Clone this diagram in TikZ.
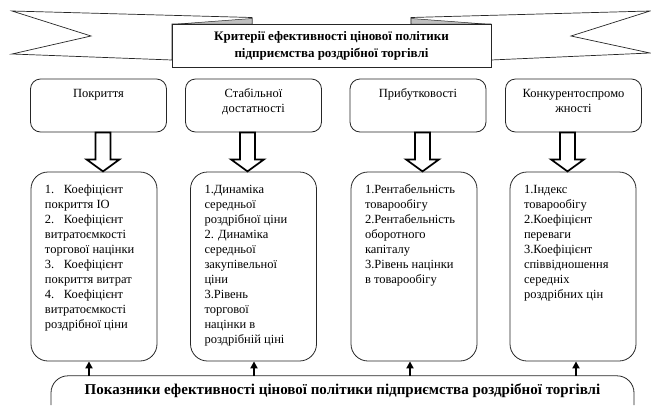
\documentclass[tikz,border=0pt]{standalone}
\usepackage{fontspec}
\setmainfont{Liberation Serif}
\usetikzlibrary{arrows.meta,calc}
\tikzset{
  boxline/.style={draw=black!85, line width=0.8pt},
  topbox/.style={boxline, rounded corners=10pt, inner sep=0pt, fill=white},
  lowbox/.style={boxline, rounded corners=17pt, inner xsep=14pt, inner ysep=0pt},
  panel/.style={boxline, fill=white, minimum width=319pt, minimum height=43pt, inner sep=0pt,
    align=center, font=\fontsize{13}{17}\selectfont\bfseries},
  tail/.style={draw=black!85, line width=0.7pt, fill=white, line join=miter},
  fold/.style={draw=black!85, line width=0.5pt, fill=black!25},
  thinarrow/.style={line width=1.8pt, -{Triangle[length=7pt,width=7pt]}},
  hollowarrow/.pic={\draw[line width=1.7pt, fill=white, line join=miter]
     (-7.5,0) -- (-7.5,27) -- (-16.5,27) -- (0,39) -- (16.5,27) -- (7.5,27) -- (7.5,0) -- cycle;}
}
\newcommand{\tbtext}[1]{\parbox[c][53pt][t]{136pt}{\centering\fontsize{12.5}{15}\selectfont\rule{0pt}{18pt}#1}}
\newcommand{\lbtext}[1]{\parbox[c][189pt][t]{98pt}{\raggedright\fontsize{12.5}{15}\selectfont\rule{0pt}{21pt}#1}}
\newcommand{\nr}[1]{\makebox[19pt][l]{#1}}
\begin{document}
\begin{tikzpicture}[x=1pt,y=-1pt]
\useasboundingbox (0,0) rectangle (651,405);
% ribbon tails
\draw[tail] (12,11) -- (252,17.5) -- (252,24) -- (172,24) -- (172,60) -- (12,54) -- (91,36) -- cycle;
\draw[tail] (650,11) -- (411,17.5) -- (411,24) -- (491,24) -- (491,60) -- (650,53) -- (571,36) -- cycle;
\draw[fold] (178,24) -- (252,18.5) -- (252,24) -- cycle;
\draw[fold] (485,24) -- (411,18.5) -- (411,24) -- cycle;
\node[panel] (crit) at (331.5,45.5) {Критерії ефективності цінової політики\\підприємства роздрібної торгівлі};
% top boxes
\node[topbox] (T1) at (98.5,105.5) {\tbtext{Покриття}};
\node[topbox] (T2) at (253.5,105.5) {\tbtext{Стабільної\\достатності}};
\node[topbox] (T3) at (418,105.5) {\tbtext{Прибутковості}};
\node[topbox] (T4) at (573.5,105.5) {\tbtext{Конкурентоспромо\\жності}};
% lower boxes
\node[lowbox] (L1) at (94,266.5) {\lbtext{\nr{1.}Коефіцієнт\\покриття ІО\\\nr{2.}Коефіцієнт\\витратоємкості\\торгової націнки\\\nr{3.}Коефіцієнт\\покриття витрат\\\nr{4.}Коефіцієнт\\витратоємкості\\роздрібної ціни}};
\node[lowbox] (L2) at (253.5,266.5) {\lbtext{1.Динаміка\\середньої\\роздрібної ціни\\2. Динаміка\\середньої\\закупівельної\\ціни\\3.Рівень\\торгової\\націнки в\\роздрібній ціні}};
\node[lowbox] (L3) at (414,266.5) {\lbtext{1.Рентабельність\\товарообігу\\2.Рентабельність\\оборотного\\капіталу\\3.Рівень націнки\\в товарообігу}};
\node[lowbox] (L4) at (573,266.5) {\lbtext{1.Індекс\\товарообігу\\2.Коефіцієнт\\переваги\\3.Коефіцієнт\\співвідношення\\середніх\\роздрібних цін}};
% hollow arrows
\coordinate (h1) at (103,0);
\coordinate (h2) at (247.5,0);
\coordinate (h3) at (422.5,0);
\coordinate (h4) at (567.5,0);
\pic at (T1.south -| h1) {hollowarrow};
\pic at (T2.south -| h2) {hollowarrow};
\pic at (T3.south -| h3) {hollowarrow};
\pic at (T4.south -| h4) {hollowarrow};
% base
\node[minimum width=583pt, minimum height=30pt, inner sep=0pt, font=\fontsize{15}{17}\selectfont\bfseries] (base) at (342.5,391) {Показники ефективності цінової політики підприємства роздрібної торгівлі};
\draw[boxline, rounded corners=17pt] (51,405) |- (base.north) -| (634,405);
% thin arrows
\coordinate (a1) at (89,0);
\coordinate (a2) at (254,0);
\coordinate (a3) at (410,0);
\coordinate (a4) at (576,0);
\draw[thinarrow] (base.north -| a1) -- (L1.south -| a1);
\draw[thinarrow] (base.north -| a2) -- (L2.south -| a2);
\draw[thinarrow] (base.north -| a3) -- (L3.south -| a3);
\draw[thinarrow] (base.north -| a4) -- (L4.south -| a4);
\end{tikzpicture}
\end{document}
